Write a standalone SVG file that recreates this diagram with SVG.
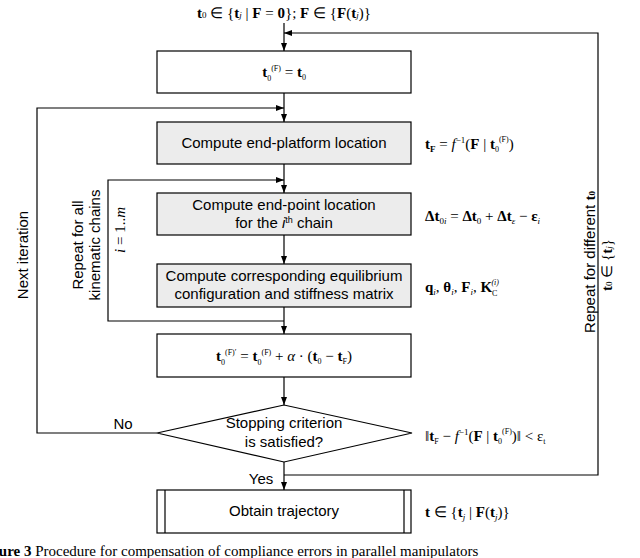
<svg xmlns="http://www.w3.org/2000/svg" width="640" height="558" viewBox="0 0 640 558">
<style>
.b{fill:#fff;stroke:#000;stroke-width:1.2}
.g{fill:#ececec;stroke:#000;stroke-width:1.2}
.t{font-family:"Liberation Sans",Arial,sans-serif;font-size:15px;text-anchor:middle}
.m{font-family:"Liberation Serif","Times New Roman",serif;font-size:15px}
.bf{font-weight:bold}
.it{font-style:italic}
.l{fill:none;stroke:#000;stroke-width:1.2}
</style>
<defs><marker id="a" markerWidth="8" markerHeight="6" refX="8" refY="3" orient="auto" markerUnits="userSpaceOnUse"><path d="M0,0L8,3L0,6z"/></marker></defs>
<text class="m" x="284" y="18" text-anchor="middle"><tspan class="bf">t</tspan><tspan font-size="9">0</tspan> ∈ {<tspan class="bf">t</tspan><tspan font-size="9" class="it">j</tspan> | <tspan class="bf">F</tspan> = <tspan class="bf">0</tspan>};  <tspan class="bf">F</tspan> ∈ {<tspan class="bf">F</tspan>(<tspan class="bf">t</tspan><tspan font-size="9" class="it">j</tspan>)}</text>
<g id="connectors">
<path class="l" d="M284,23V51" marker-end="url(#a)"/>
<path class="l" d="M284,93V122" marker-end="url(#a)"/>
<path class="l" d="M284,164V193" marker-end="url(#a)"/>
<path class="l" d="M284,235V264" marker-end="url(#a)"/>
<path class="l" d="M284,307V334" marker-end="url(#a)"/>
<path class="l" d="M284,377V405" marker-end="url(#a)"/>
<path class="l" d="M284,462V490" marker-end="url(#a)"/>
<path class="l" d="M157,433H37V108H284" marker-end="url(#a)"/>
<path class="l" d="M284,321H108V180H284" marker-end="url(#a)"/>
<path class="l" d="M284,475H598V33H284" marker-end="url(#a)"/>
</g>
<g id="n1"><rect class="b" x="157" y="51" width="254" height="42"/>
<text class="m" x="284" y="77" text-anchor="middle"><tspan class="bf">t</tspan><tspan font-size="8" dy="4">0</tspan><tspan font-size="8" dy="-10">(F)</tspan><tspan dy="6"> = </tspan><tspan class="bf">t</tspan><tspan font-size="8" dy="3">0</tspan></text></g>
<g id="n2"><rect class="g" x="157" y="122" width="254" height="42"/>
<text class="t" x="284" y="148">Compute end-platform location</text>
<text class="m" x="425" y="149"><tspan class="bf">t</tspan><tspan font-size="9" class="bf" dy="3">F</tspan><tspan dy="-3"> = </tspan><tspan class="it">f</tspan><tspan font-size="9" dy="-6">−1</tspan><tspan dy="6">(</tspan><tspan class="bf">F</tspan> | <tspan class="bf">t</tspan><tspan font-size="8" dy="3">0</tspan><tspan font-size="8" dy="-10">(F)</tspan><tspan dy="7">)</tspan></text></g>
<g id="n3"><rect class="g" x="157" y="193" width="254" height="42"/>
<text class="t" x="284" y="210">Compute end-point location</text>
<text class="t" x="284" y="228">for the <tspan font-style="italic">i</tspan><tspan font-size="9" dy="-5">th</tspan><tspan dy="5">  chain</tspan></text>
<text class="m" x="425" y="221"><tspan class="bf">Δt</tspan><tspan font-size="9" dy="3">0<tspan class="it">i</tspan></tspan><tspan dy="-3"> = </tspan><tspan class="bf">Δt</tspan><tspan font-size="9" dy="3">0</tspan><tspan dy="-3"> + </tspan><tspan class="bf">Δt</tspan><tspan font-size="9" class="it" dy="3">ε</tspan><tspan dy="-3"> − </tspan><tspan class="bf">ε</tspan><tspan font-size="9" class="it" dy="3">i</tspan></text></g>
<g id="n4"><rect class="g" x="157" y="264" width="254" height="43"/>
<text class="t" x="284" y="281">Compute corresponding equilibrium</text>
<text class="t" x="284" y="299">configuration and stiffness matrix</text>
<text class="m" x="425" y="292"><tspan class="bf">q</tspan><tspan font-size="9" class="it" dy="3">i</tspan><tspan dy="-3">, </tspan><tspan class="bf">θ</tspan><tspan font-size="9" class="it" dy="3">i</tspan><tspan dy="-3">, </tspan><tspan class="bf">F</tspan><tspan font-size="9" class="it" dy="3">i</tspan><tspan dy="-3">, </tspan><tspan class="bf">K</tspan><tspan font-size="8" dy="4">C</tspan><tspan font-size="8" class="it" dx="-6" dy="-11">(i)</tspan></text></g>
<g id="n5"><rect class="b" x="157" y="334" width="254" height="43"/>
<text class="m" x="284" y="361" text-anchor="middle"><tspan class="bf">t</tspan><tspan font-size="8" dy="4">0</tspan><tspan font-size="8" dy="-10">(F)′</tspan><tspan dy="6"> = </tspan><tspan class="bf">t</tspan><tspan font-size="8" dy="4">0</tspan><tspan font-size="8" dy="-10">(F)</tspan><tspan dy="6"> + </tspan><tspan class="it">α</tspan> · (<tspan class="bf">t</tspan><tspan font-size="8" dy="3">0</tspan><tspan dy="-3"> − </tspan><tspan class="bf">t</tspan><tspan font-size="8" dy="3">F</tspan><tspan dy="-3">)</tspan></text></g>
<g id="n6"><path class="b" d="M157,433L284,405L412,433L284,462z"/>
<text class="t" x="284" y="428">Stopping criterion</text>
<text class="t" x="284" y="447">is satisfied?</text>
<text class="m" x="425" y="441">‖<tspan class="bf">t</tspan><tspan font-size="8" dy="3">F</tspan><tspan dy="-3"> − </tspan><tspan class="it">f</tspan><tspan font-size="9" dy="-6">−1</tspan><tspan dy="6">(</tspan><tspan class="bf">F</tspan> | <tspan class="bf">t</tspan><tspan font-size="8" dy="3">0</tspan><tspan font-size="8" dy="-10">(F)</tspan><tspan dy="7">)</tspan>‖ &lt; ε<tspan font-size="8" dy="3">t</tspan></text>
<text class="t" x="123" y="429">No</text>
<text class="t" x="261" y="484">Yes</text></g>
<g id="n7"><rect class="b" x="157" y="490" width="254" height="43"/>
<path class="l" d="M165,490V533M404,490V533"/>
<text class="t" x="284" y="516">Obtain trajectory</text>
<text class="m" x="425" y="517"><tspan class="bf">t</tspan> ∈ {<tspan class="bf">t</tspan><tspan font-size="9" class="it" dy="3">j</tspan><tspan dy="-3"> | </tspan><tspan class="bf">F</tspan>(<tspan class="bf">t</tspan><tspan font-size="9" class="it" dy="3">j</tspan><tspan dy="-3">)}</tspan></text></g>
<g id="labels">
<text class="t" x="0" y="0" font-size="16" transform="translate(28,255) rotate(-90)">Next iteration</text>
<text class="t" transform="translate(83,245) rotate(-90)">Repeat for all</text>
<text class="t" transform="translate(100,245) rotate(-90)">kinematic chains</text>
<text class="m" transform="translate(125,230) rotate(-90)" text-anchor="middle"><tspan class="it">i</tspan> = 1..<tspan class="it">m</tspan></text>
<text class="t" transform="translate(595,262) rotate(-90)">Repeat for different <tspan font-family="Liberation Serif" font-weight="bold">t</tspan><tspan font-family="Liberation Serif" font-weight="bold" font-size="9">0</tspan></text>
<text class="m" transform="translate(612,265) rotate(-90)" text-anchor="middle"><tspan class="bf">t</tspan><tspan font-size="9">0</tspan> ∈ {<tspan class="bf">t</tspan><tspan font-size="9" class="it">j</tspan>}</text>
<text class="m" x="-22" y="556" font-size="18"><tspan class="bf">Figure 3</tspan>    Procedure for compensation of compliance errors in parallel manipulators</text>
</g>
</svg>
